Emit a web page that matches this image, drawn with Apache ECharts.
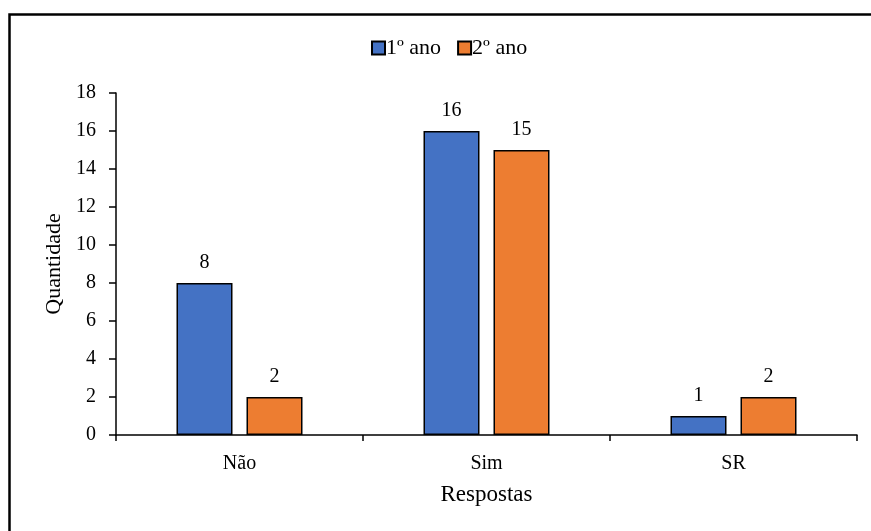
<!DOCTYPE html>
<html>
<head>
<meta charset="utf-8">
<script src="https://cdn.jsdelivr.net/npm/echarts@6/dist/echarts.min.js"></script>
<style>
  html, body { margin: 0; padding: 0; background: #fff; }
  #chart { width: 871px; height: 531px; }
</style>
</head>
<body>
<div id="chart"></div>
<script>
// Response categories and counts per school year
const categories = ['Não', 'Sim', 'SR'];
const seriesNames = ['1º ano', '2º ano'];
const firstYear = [8, 16, 1];
const secondYear = [2, 15, 2];
const yTicks = { min: 0, max: 18, interval: 2 };

const FONT = '"Liberation Serif", "Times New Roman", serif';

const chart = echarts.init(document.getElementById('chart'), null, { renderer: 'canvas' });

const barLabel = {
  show: true,
  position: 'top',
  distance: 10,
  color: '#000',
  fontFamily: FONT,
  fontSize: 20
};

chart.setOption({
  backgroundColor: '#fff',
  animation: false,
  graphic: [{
    type: 'rect',
    left: 7,
    top: 12,
    shape: { width: 1000, height: 700 },
    style: { fill: 'none', stroke: '#000', lineWidth: 2.5 },
    silent: true
  }],
  legend: {
    left: 366,
    top: 32,
    itemWidth: 13,
    itemHeight: 13,
    itemGap: 16,
    icon: 'rect',
    textStyle: { fontFamily: FONT, fontSize: 22, color: '#000', padding: [0, 0, 0, -4] },
    data: seriesNames
  },
  grid: { left: 116, right: 14, top: 93, bottom: 96 },
  xAxis: {
    type: 'category',
    data: categories,
    name: 'Respostas',
    nameLocation: 'middle',
    nameGap: 48,
    nameTextStyle: { fontFamily: FONT, fontSize: 23, color: '#000' },
    axisLine: { lineStyle: { color: '#000', width: 1.5 } },
    axisTick: { show: true, length: 6, lineStyle: { color: '#000', width: 1.5 } },
    axisLabel: { fontFamily: FONT, fontSize: 20, color: '#000', margin: 19 }
  },
  yAxis: {
    type: 'value',
    min: yTicks.min,
    max: yTicks.max,
    interval: yTicks.interval,
    name: 'Quantidade',
    nameLocation: 'middle',
    nameGap: 45,
    nameTextStyle: { fontFamily: FONT, fontSize: 22, color: '#000' },
    splitLine: { show: false },
    axisLine: { show: true, lineStyle: { color: '#000', width: 1.5 } },
    axisTick: { show: true, length: 7, lineStyle: { color: '#000', width: 1.5 } },
    axisLabel: { fontFamily: FONT, fontSize: 20, color: '#000', margin: 20 }
  },
  series: [
    {
      name: seriesNames[0],
      type: 'bar',
      data: firstYear,
      barWidth: 56,
      barGap: '25%',
      itemStyle: { color: '#4472C4', borderColor: '#000', borderWidth: 1.5 },
      label: barLabel
    },
    {
      name: seriesNames[1],
      type: 'bar',
      data: secondYear,
      barWidth: 56,
      barGap: '25%',
      itemStyle: { color: '#ED7D31', borderColor: '#000', borderWidth: 1.5 },
      label: barLabel
    }
  ]
});
</script>
</body>
</html>
